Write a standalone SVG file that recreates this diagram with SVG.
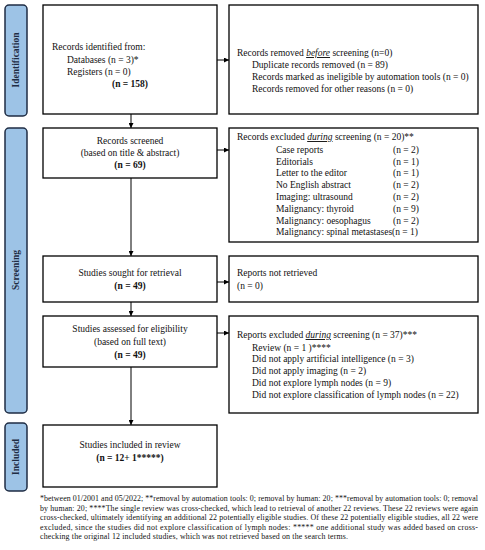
<svg xmlns="http://www.w3.org/2000/svg" width="485" height="550" viewBox="0 0 485 550">
<defs>
<marker id="ah" viewBox="0 0 10 10" refX="10" refY="5" markerWidth="5" markerHeight="5" orient="auto" markerUnits="userSpaceOnUse">
<path d="M0,0 L10,5 L0,10 z" fill="#000"/>
</marker>
<style>
.box{fill:#fff;stroke:#000;stroke-width:1.3}
.side{fill:#9DC3E6;stroke:#1F2D44;stroke-width:1.5}
.sl{font-family:"Liberation Serif",serif;font-weight:bold;font-size:9.5px;fill:#1F2D44;text-anchor:middle}
.t{font-family:"Liberation Serif",serif;font-size:9.5px;fill:#111}
.c{text-anchor:middle}
.b{font-weight:bold}
.fn{font-family:"Liberation Serif",serif;font-size:7.9px;fill:#111}
.con{stroke:#000;stroke-width:1;fill:none;marker-end:url(#ah)}
</style>
</defs>
<rect width="485" height="550" fill="#fff"/>

<g id="label-identification">
<rect class="side" x="5" y="5" width="22" height="111" rx="4"/>
<text class="sl" transform="translate(19,60) rotate(-90)">Identification</text>
</g>
<g id="label-screening">
<rect class="side" x="5" y="128" width="22" height="285" rx="4"/>
<text class="sl" transform="translate(19,270) rotate(-90)">Screening</text>
</g>
<g id="label-included">
<rect class="side" x="5" y="423" width="22" height="68" rx="4"/>
<text class="sl" transform="translate(19,457) rotate(-90)">Included</text>
</g>

<g id="connectors">
<line class="con" x1="217" y1="60" x2="229" y2="60"/>
<line class="con" x1="131" y1="114" x2="131" y2="128"/>
<line class="con" x1="217" y1="150" x2="229" y2="150"/>
<line class="con" x1="131" y1="178" x2="131" y2="256"/>
<line class="con" x1="217" y1="282" x2="229" y2="282"/>
<line class="con" x1="131" y1="302" x2="131" y2="316"/>
<line class="con" x1="217" y1="333" x2="229" y2="333"/>
<line class="con" x1="131" y1="367" x2="131" y2="425"/>
</g>

<g id="records-identified">
<rect class="box" x="43" y="5" width="174" height="109"/>
<text class="t" x="52" y="50">Records identified from:</text>
<text class="t" x="67" y="63">Databases (n = 3)*</text>
<text class="t" x="67" y="75">Registers (n = 0)</text>
<text class="t b c" x="130" y="87">(n = 158)</text>
</g>

<g id="records-removed">
<rect class="box" x="229" y="5" width="249" height="109"/>
<text class="t" x="237" y="56">Records removed <tspan font-style="italic" text-decoration="underline">before</tspan> screening (n=0)</text>
<text class="t" x="252" y="68">Duplicate records removed  (n = 89)</text>
<text class="t" x="252" y="80">Records marked as ineligible by automation tools (n = 0)</text>
<text class="t" x="252" y="92">Records removed for other reasons (n = 0)</text>
</g>

<g id="records-screened">
<rect class="box" x="43" y="128" width="174" height="50"/>
<text class="t c" x="130" y="144">Records screened</text>
<text class="t c" x="130" y="156">(based on title &amp; abstract)</text>
<text class="t b c" x="130" y="168">(n = 69)</text>
</g>

<g id="records-excluded">
<rect class="box" x="229" y="128" width="249" height="114"/>
<text class="t" x="237" y="140">Records excluded <tspan font-style="italic" text-decoration="underline">during</tspan> screening (n = 20)**</text>
<text class="t" x="276" y="153">Case reports</text><text class="t" x="393" y="153">(n = 2)</text>
<text class="t" x="276" y="165">Editorials</text><text class="t" x="393" y="165">(n = 1)</text>
<text class="t" x="276" y="176">Letter to the editor</text><text class="t" x="393" y="176">(n = 1)</text>
<text class="t" x="276" y="188">No English abstract</text><text class="t" x="393" y="188">(n = 2)</text>
<text class="t" x="276" y="200">Imaging: ultrasound</text><text class="t" x="393" y="200">(n = 2)</text>
<text class="t" x="276" y="212">Malignancy: thyroid</text><text class="t" x="393" y="212">(n = 9)</text>
<text class="t" x="276" y="224">Malignancy: oesophagus</text><text class="t" x="393" y="224">(n = 2)</text>
<text class="t" x="276" y="235">Malignancy: spinal metastases(n = 1)</text>
</g>

<g id="studies-sought">
<rect class="box" x="43" y="256" width="174" height="46"/>
<text class="t c" x="130" y="276">Studies sought for retrieval</text>
<text class="t b c" x="130" y="289">(n = 49)</text>
</g>

<g id="reports-not-retrieved">
<rect class="box" x="229" y="256" width="249" height="46"/>
<text class="t" x="237" y="276">Reports not retrieved</text>
<text class="t" x="237" y="289">(n = 0)</text>
</g>

<g id="studies-assessed">
<rect class="box" x="43" y="316" width="174" height="51"/>
<text class="t c" x="130" y="332">Studies assessed for eligibility</text>
<text class="t c" x="130" y="345">(based on full text)</text>
<text class="t b c" x="130" y="358">(n = 49)</text>
</g>

<g id="reports-excluded">
<rect class="box" x="229" y="316" width="249" height="97"/>
<text class="t" x="237" y="338">Reports excluded <tspan font-style="italic" text-decoration="underline">during</tspan> screening (n = 37)***</text>
<text class="t" x="252" y="351">Review (n = 1 )****</text>
<text class="t" x="252" y="362">Did not apply artificial intelligence (n = 3)</text>
<text class="t" x="252" y="374">Did not apply imaging (n = 2)</text>
<text class="t" x="252" y="386">Did not explore lymph nodes (n = 9)</text>
<text class="t" x="252" y="398">Did not explore classification of lymph nodes (n = 22)</text>
</g>

<g id="studies-included">
<rect class="box" x="43" y="425" width="174" height="62"/>
<text class="t c" x="130" y="448">Studies included in review</text>
<text class="t b c" x="130" y="461">(n = 12+ 1*****)</text>
</g>

<g id="footnote">
<text class="fn" x="40" y="501" textLength="438" lengthAdjust="spacing">*between 01/2001 and 05/2022; **removal by automation tools: 0; removal by human: 20; ***removal by automation tools: 0; removal</text>
<text class="fn" x="40" y="510.5" textLength="438" lengthAdjust="spacing">by human: 20; ****The single review was cross-checked, which lead to retrieval of another 22 reviews. These 22 reviews were again</text>
<text class="fn" x="40" y="520" textLength="438" lengthAdjust="spacing">cross-checked, ultimately identifying an additional 22 potentially eligible studies. Of these 22 potentially eligible studies, all 22 were</text>
<text class="fn" x="40" y="529.5" textLength="438" lengthAdjust="spacing">excluded, since the studies did not explore classification of lymph nodes: ***** one additional study was added based on cross-</text>
<text class="fn" x="40" y="539" textLength="308" lengthAdjust="spacing">checking the original 12 included studies, which was not retrieved based on the search terms.</text>
</g>
</svg>
